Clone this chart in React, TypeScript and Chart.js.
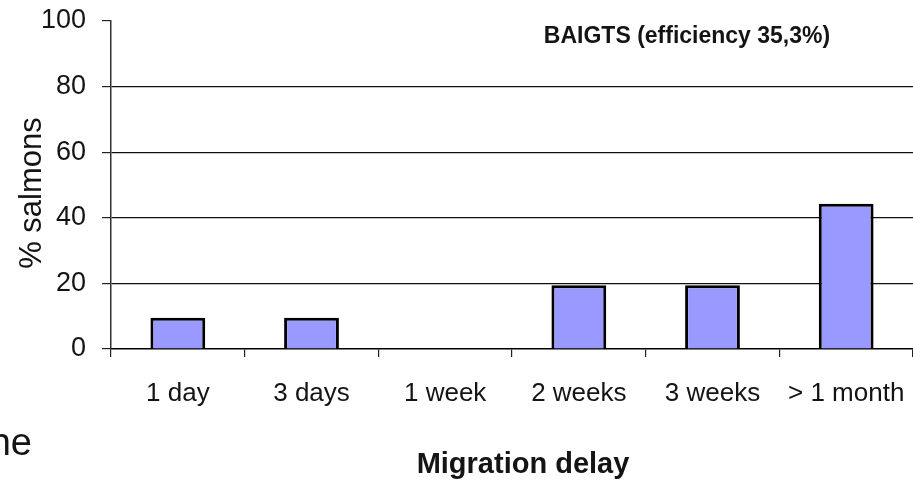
import React, { useEffect, useRef } from "react";
import { Chart, registerables } from "chart.js";

Chart.register(...registerables);

const categories = ["1 day", "3 days", "1 week", "2 weeks", "3 weeks", "> 1 month"];
const salmonPercent = [9.5, 9.5, 0, 19.4, 19.4, 44.3];
const yTickValues = [0, 20, 40, 60, 80, 100];
const yAxisTitle = "% salmons";
const xAxisTitle = "Migration delay";
const annotationText = "BAIGTS (efficiency 35,3%)";
const fragmentText = "ne";

const FONT = '"Liberation Sans", Arial, sans-serif';
const TEXT = "#141414";

const textPlugin = {
  id: "textPlugin",
  afterDraw(chart: any) {
    const ctx = chart.ctx as CanvasRenderingContext2D;
    ctx.save();
    ctx.fillStyle = TEXT;
    // y axis title
    ctx.save();
    ctx.translate(32, 193);
    ctx.rotate(-Math.PI / 2);
    ctx.font = `31px ${FONT}`;
    ctx.textAlign = "center";
    ctx.textBaseline = "middle";
    ctx.fillText(yAxisTitle, 0, 0);
    ctx.restore();
    // x axis title
    ctx.font = `bold 29px ${FONT}`;
    ctx.textAlign = "center";
    ctx.textBaseline = "alphabetic";
    ctx.fillText(xAxisTitle, 523, 473);
    // annotation
    ctx.font = `bold 23px ${FONT}`;
    ctx.textAlign = "center";
    ctx.fillText(annotationText, 687, 43);
    // leftover fragment
    ctx.font = `38px ${FONT}`;
    ctx.textAlign = "right";
    ctx.fillText(fragmentText, 32, 455);
    ctx.restore();
  },
};

export default function App() {
  const canvasRef = useRef<HTMLCanvasElement | null>(null);

  useEffect(() => {
    const canvas = canvasRef.current;
    if (!canvas) return;
    const chart = new Chart(canvas, {
      type: "bar",
      data: {
        labels: categories,
        datasets: [
          {
            data: salmonPercent,
            backgroundColor: "#9999FF",
            borderColor: "#000000",
            borderWidth: 3,
            barPercentage: 0.41,
            categoryPercentage: 1,
          },
        ],
      },
      options: {
        responsive: false,
        animation: false,
        layout: { padding: { top: 21, right: 0, bottom: 0, left: 0 } },
        plugins: {
          legend: { display: false },
          tooltip: { enabled: false },
          title: { display: false },
        },
        scales: {
          x: {
            offset: true,
            grid: {
              offset: true,
              drawOnChartArea: false,
              drawTicks: true,
              tickLength: 8,
              color: "#222",
              lineWidth: 1.2,
            },
            border: { display: true, color: "#000", width: 1.5 },
            ticks: {
              font: { family: FONT, size: 26 },
              color: TEXT,
              padding: 21,
              maxRotation: 0,
              minRotation: 0,
              autoSkip: false,
            },
            afterFit: (s: any) => {
              s.height = 133;
              s.paddingLeft = 0;
              s.paddingRight = 0;
            },
          },
          y: {
            min: 0,
            max: 100,
            afterBuildTicks: (s: any) => {
              s.ticks = yTickValues.map((v) => ({ value: v }));
            },
            grid: {
              drawTicks: true,
              tickLength: 9,
              color: (c: any) =>
                c.tick && (c.tick.value === 100 || c.tick.value === 0) ? "rgba(0,0,0,0)" : "#111",
              tickColor: "#222",
              lineWidth: 1.2,
            },
            border: { display: true, color: "#333", width: 1.5 },
            ticks: {
              font: { family: FONT, size: 27 },
              color: TEXT,
              padding: 16,
            },
            afterFit: (s: any) => {
              s.width = 111;
              s.paddingTop = 0;
              s.paddingBottom = 0;
            },
          },
        },
      },
      plugins: [textPlugin],
    });
    return () => chart.destroy();
  }, []);

  return (
    <div style={{ position: "fixed", left: 0, top: 0, width: 913, height: 482, background: "#fff" }}>
      <canvas ref={canvasRef} width={913} height={482} style={{ display: "block" }} />
    </div>
  );
}
